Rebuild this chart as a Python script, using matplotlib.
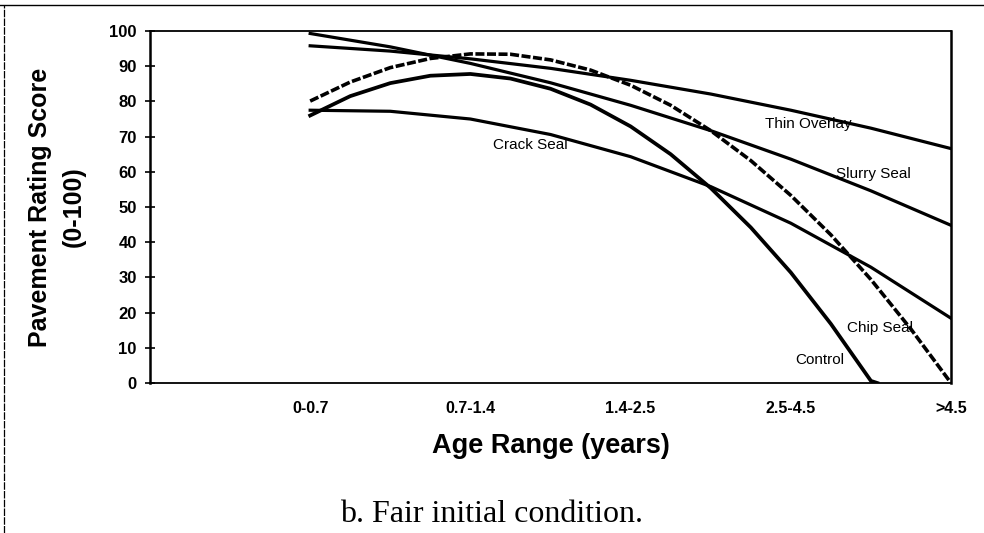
import matplotlib
matplotlib.use("Agg")
import matplotlib.pyplot as plt
from matplotlib.lines import Line2D

# age range categories, placed at positions 1..5
categories = ["0-0.7", "0.7-1.4", "1.4-2.5", "2.5-4.5", ">4.5"]
cat_pos = [1, 2, 3, 4, 5]

# rating scores
x_half = [1.0, 1.5, 2.0, 2.5, 3.0, 3.5, 4.0, 4.5, 5.0]
thin_overlay = [95.8, 94.3, 92.1, 89.4, 86.0, 82.1, 77.5, 72.4, 66.6]
slurry_seal = [99.3, 95.5, 90.8, 85.3, 78.9, 71.7, 63.6, 54.6, 44.8]
crack_seal = [77.5, 77.2, 75.0, 70.6, 64.3, 55.8, 45.4, 32.9, 18.4]

x_chip = [1.0, 1.25, 1.5, 1.75, 2.0, 2.25, 2.5, 2.75, 3.0, 3.25, 3.5, 3.75, 4.0, 4.25, 4.5, 4.75, 5.0]
chip_seal = [80.1, 85.5, 89.6, 92.2, 93.5, 93.4, 91.8, 88.9, 84.6, 78.9, 71.7, 63.2, 53.3, 42.1, 29.4, 15.3, 0.0]

x_control = [1.0, 1.25, 1.5, 1.75, 2.0, 2.25, 2.5, 2.75, 3.0, 3.25, 3.5, 3.75, 4.0, 4.25, 4.5, 4.54]
control = [76.0, 81.5, 85.2, 87.3, 87.8, 86.5, 83.6, 79.1, 72.9, 65.0, 55.4, 44.2, 31.4, 16.8, 0.6, 0.0]

# label text and where it sits (left edge, centre height)
curve_labels = ["Thin Overlay", "Slurry Seal", "Crack Seal", "Chip Seal", "Control"]
label_x = [3.84, 4.28, 2.14, 4.35, 4.03]
label_y = [73.6, 59.5, 67.5, 15.6, 6.5]

plt.rcParams["font.family"] = ["Liberation Sans", "DejaVu Sans"]

fig = plt.figure(figsize=(9.84, 5.33), dpi=100)
ax = fig.add_axes([0.1524, 0.2814, 0.8141, 0.6604])

lw = 2.3
ax.plot(x_half, thin_overlay, color="black", lw=lw)
ax.plot(x_half, slurry_seal, color="black", lw=lw)
ax.plot(x_half, crack_seal, color="black", lw=lw)
ax.plot(x_chip, chip_seal, color="black", lw=lw + 0.3, linestyle=(0, (2.5, 0.7)))
ax.plot(x_control, control, color="black", lw=lw + 0.4)

for txt, lx, ly in zip(curve_labels, label_x, label_y):
    ax.text(lx, ly, txt, fontsize=11, ha="left", va="center")

ax.set_xlim(0, 5)
ax.set_ylim(0, 100)
ax.set_xticks(cat_pos)
ax.set_xticklabels(categories, fontsize=11.5, fontweight="bold")
ax.set_yticks(range(0, 101, 10))
ax.set_yticklabels([str(v) for v in range(0, 101, 10)], fontsize=12, fontweight="bold")
ax.tick_params(axis="x", length=0, pad=13)
ax.tick_params(axis="y", direction="inout", length=7, width=1.2, pad=6)

for side in ["left", "right"]:
    ax.spines[side].set_linewidth(1.8)
for side in ["top", "bottom"]:
    ax.spines[side].set_linewidth(1.3)

ax.set_xlabel("Age Range (years)", fontsize=19.5, fontweight="bold", labelpad=12)
ax.set_ylabel("Pavement Rating Score\n(0-100)", fontsize=18, fontweight="bold",
              labelpad=17, linespacing=1.5)

fig.text(0.5, 1 - 515 / 533, "b. Fair initial condition.", ha="center", va="center",
         fontsize=23, family=["Liberation Serif", "DejaVu Serif"])

# scanned page frame
fig.add_artist(Line2D([0, 1], [1 - 5 / 533, 1 - 5 / 533], transform=fig.transFigure,
                      color="black", lw=1.0))
fig.add_artist(Line2D([4 / 984, 4 / 984], [0, 1 - 5 / 533], transform=fig.transFigure,
                      color="black", lw=0.9, linestyle=(0, (6, 1))))

fig.savefig("out.png", dpi=100)
